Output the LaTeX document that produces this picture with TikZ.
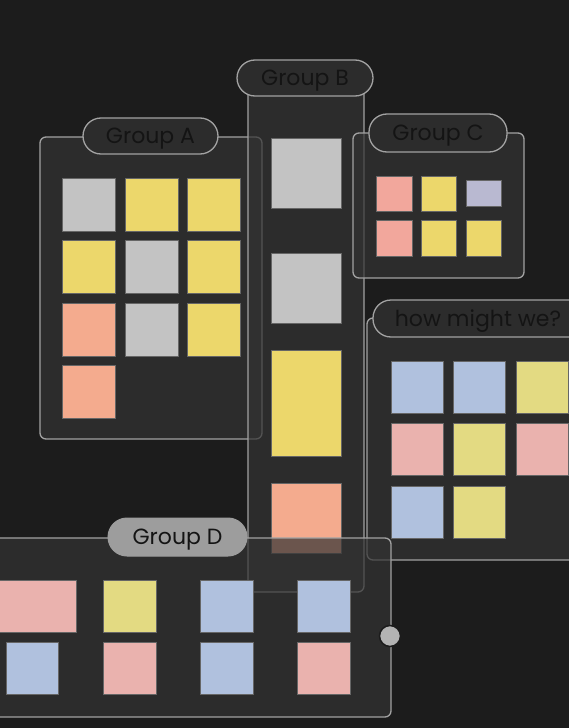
\documentclass[tikz,border=0pt]{standalone}
\usepackage{fontspec}
\setmainfont{Poppins}
\definecolor{bg}{HTML}{1C1C1C}
\definecolor{grpfill}{HTML}{333333}
\definecolor{edge}{HTML}{A2A2A2}
\definecolor{tabfill}{HTML}{2C2C2C}
\definecolor{tabsel}{HTML}{9D9D9D}
\definecolor{labeltext}{HTML}{141414}
\definecolor{ngrey}{HTML}{C3C3C3}
\definecolor{nyellow}{HTML}{ECD76B}
\definecolor{nsalmon}{HTML}{F4AB8E}
\definecolor{npink}{HTML}{EAB2AE}
\definecolor{nblue}{HTML}{B0C1DE}
\definecolor{nyellowb}{HTML}{E3DA82}
\definecolor{nlav}{HTML}{B9B9D1}
\definecolor{nrose}{HTML}{F2A79C}
\definecolor{handle}{HTML}{B3B3B3}
\tikzset{
  grpbox/.style={fill=grpfill, fill opacity=0.71, draw=edge, line width=1.3pt, rounded corners=6pt},
  tabshape/.style={fill=tabfill, draw=edge, line width=1.3pt, rounded corners=18pt},
  tabselshape/.style={fill=tabsel, draw=tabsel, line width=1pt, rounded corners=19pt},
  tablabel/.style={text=labeltext, font=\fontsize{22}{22}\selectfont, inner sep=0pt, anchor=base},
  note/.style={draw=black!60, line width=0.5pt},
}
\begin{document}
\begin{tikzpicture}[x=1pt,y=-1pt]
\useasboundingbox (0,0) rectangle (569,728);
\clip (0,0) rectangle (569,728);
\fill[bg] (0,0) rectangle (569,728);

% ---------------- Group A
\draw[grpbox] (40,137) rectangle (262,439);
\draw[tabshape] (83,118) rectangle (218,154);
\node[tablabel] (labA) at (150.5,143) {Group A};
\foreach \c/\x/\y in {ngrey/62/178, nyellow/125/178, nyellow/187/178,
                      nyellow/62/240, ngrey/125/240, nyellow/187/240,
                      nsalmon/62/303, ngrey/125/303, nyellow/187/303,
                      nsalmon/62/365}
  \draw[note, fill=\c] (\x,\y) rectangle ++(53,53);

% ---------------- Group B
\draw[grpbox] (248,78) rectangle (364,592);
\draw[tabshape] (237,60) rectangle (373,96);
\node[tablabel] (labB) at (305,85) {Group B};
\draw[note, fill=ngrey] (271,138) rectangle (341,208);
\draw[note, fill=ngrey] (271,253) rectangle (341,323);
\draw[note, fill=nyellow] (271,350) rectangle (341,456);
\draw[note, fill=nsalmon] (271,483) rectangle (341,553);

% ---------------- Group C
\draw[grpbox] (353,133) rectangle (524,278);
\draw[tabshape] (369,114) rectangle (507,152);
\node[tablabel] (labC) at (438,140) {Group C};
\draw[note, fill=nrose] (376,176) rectangle (412,211);
\draw[note, fill=nyellow] (421,176) rectangle (456,211);
\draw[note, fill=nlav] (466,180) rectangle (501,206);
\draw[note, fill=nrose] (376,220) rectangle (412,256);
\draw[note, fill=nyellow] (421,220) rectangle (456,256);
\draw[note, fill=nyellow] (466,220) rectangle (501,256);

% ---------------- how might we?
\draw[grpbox] (367,318) rectangle (600,560);
\draw[tabshape] (373,300) rectangle (620,337);
\node[tablabel] (labH) at (478,326.5) {how might we?};
\foreach \c/\x/\y in {nblue/391/361, nblue/453/361, nyellowb/516/361,
                      npink/391/423, nyellowb/453/423, npink/516/423,
                      nblue/391/486, nyellowb/453/486}
  \draw[note, fill=\c] (\x,\y) rectangle ++(52,52);

% ---------------- Group D
\draw[grpbox] (-20,538) rectangle (391,717);
\draw[tabselshape] (108,518) rectangle (247,556);
\node[tablabel] (labD) at (177.5,544) {Group D};
\draw[note, fill=npink] (-5,580) rectangle (76,632);
\draw[note, fill=nyellowb] (103,580) rectangle (156,632);
\draw[note, fill=nblue] (200,580) rectangle (253,632);
\draw[note, fill=nblue] (297,580) rectangle (350,632);
\draw[note, fill=nblue] (6,642) rectangle (58,694);
\draw[note, fill=npink] (103,642) rectangle (156,694);
\draw[note, fill=nblue] (200,642) rectangle (253,694);
\draw[note, fill=npink] (297,642) rectangle (350,694);
\node[circle, fill=handle, draw=bg, line width=1.5pt, minimum size=21pt, inner sep=0pt] (handleD) at (390,636) {};
\end{tikzpicture}
\end{document}
